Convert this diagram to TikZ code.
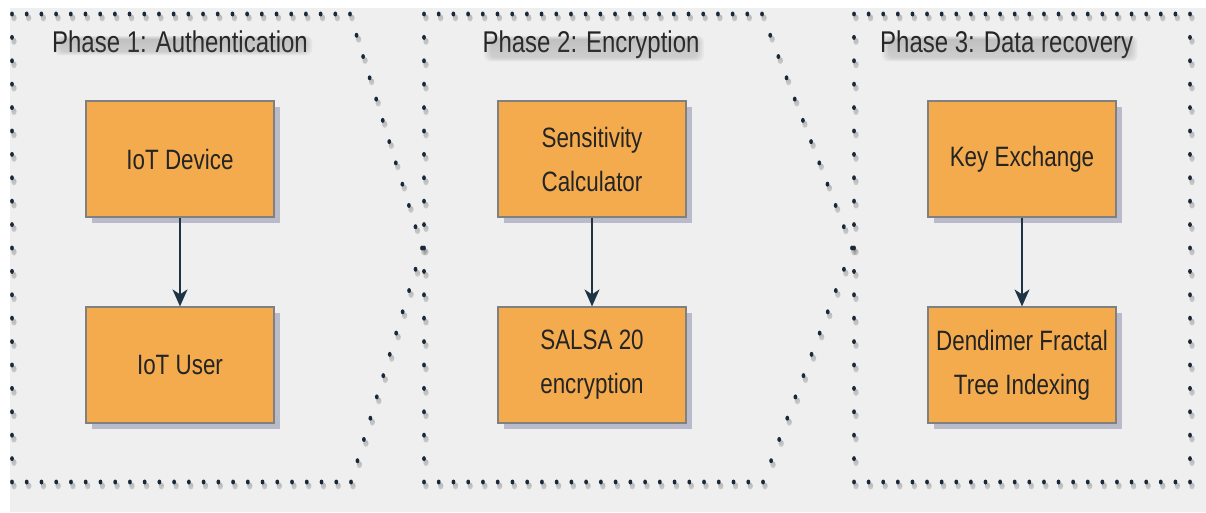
\documentclass[tikz,border=0pt]{standalone}
\usepackage{fontspec}
\setmainfont{Liberation Sans}[FakeStretch=0.8]
\usetikzlibrary{arrows.meta,shadows,calc}
\definecolor{canvas}{RGB}{239,239,239}
\definecolor{stepfill}{RGB}{244,171,78}
\definecolor{stepline}{RGB}{128,128,128}
\definecolor{dotink}{RGB}{26,40,56}
\definecolor{arrowink}{RGB}{30,52,68}
\definecolor{shade}{RGB}{120,124,158}
\definecolor{txt}{RGB}{36,36,36}
% a run of #3 dots from just after #1 up to and including #2
\newcommand\dotrun[3]{%
  \foreach \i in {1,...,#3} {%
    \fill[shade, opacity=0.18] ($(#1)!{\i/#3}!(#2)+(2,4)$) ellipse [x radius=2.6, y radius=3.4];
    \fill[dotink] ($(#1)!{\i/#3}!(#2)$) ellipse [x radius=1.9, y radius=2.5];
  }}
\begin{document}
\begin{tikzpicture}[x=1pt,y=-1pt,
  stagebox/.style={draw=stepline, line width=1.2pt, fill=stepfill,
    minimum width=188pt, minimum height=116pt, inner sep=0pt, align=center,
    text=txt, font=\fontsize{28}{44}\selectfont,
    drop shadow={shadow xshift=6pt, shadow yshift=-6pt, fill=shade, opacity=0.45}},
  phasetitle/.style={anchor=base, text=txt, font=\fontsize{30}{36}\selectfont, inner sep=0pt},
  flow/.style={draw=arrowink, line width=1.8pt, -{Stealth[length=17pt,width=15pt,inset=5pt]}},
]
\useasboundingbox (0,0) rectangle (1206,512);
\fill[canvas] (10,8) rectangle (1206,512);

% corners of the three phase outlines
\coordinate (a1) at (12,14);  \coordinate (a2) at (350,14);
\coordinate (a3) at (422,248); \coordinate (a4) at (351,482);
\coordinate (a5) at (12,482);
\coordinate (b1) at (424,14);  \coordinate (b2) at (762,14);
\coordinate (b3) at (852,248); \coordinate (b4) at (763,482);
\coordinate (b5) at (424,482);
\coordinate (c1) at (854,14);  \coordinate (c2) at (1190,14);
\coordinate (c3) at (1190,482); \coordinate (c4) at (854,482);

% dotted outlines
\dotrun{a1}{a2}{23}\dotrun{a2}{a3}{11}\dotrun{a3}{a4}{11}\dotrun{a4}{a5}{23}\dotrun{a5}{a1}{20}
\dotrun{b1}{b2}{23}\dotrun{b2}{b3}{11}\dotrun{b3}{b4}{11}\dotrun{b4}{b5}{23}\dotrun{b5}{b1}{20}
\dotrun{c1}{c2}{23}\dotrun{c2}{c3}{20}\dotrun{c3}{c4}{23}\dotrun{c4}{c1}{20}

% phase titles
\node[phasetitle] (t1) at (180,52) {Phase 1: Authentication};
\node[phasetitle] (t2) at (591,52) {Phase 2: Encryption};
\node[phasetitle, anchor=base west] (t3) at (880,52) {Phase 3: Data recovery};

% soft haze under the titles
\foreach \t in {t1,t2,t3} {
  \foreach \k in {0,2,4,6} {
    \fill[shade, opacity=0.035, rounded corners=6pt]
      ($(\t.south west)+(\k+2,3-\k*0.5)$) rectangle ($(\t.north east)+(4-\k,6+\k*0.5)$);
  }
}

% steps
\node[stagebox] (dev) at (180,159) {IoT Device};
\node[stagebox] (usr) at (180,365) {IoT User};
\node[stagebox] (sens) at (592,159) {Sensitivity\\Calculator};
\node[stagebox] (salsa) at (592,365) {SALSA 20\\encryption};
\node[stagebox] (kex) at (1022,159) {Key Exchange};
\node[stagebox] (dft) at (1022,365) {Dendimer Fractal\\Tree Indexing};

\draw[flow] (dev) -- (usr);
\draw[flow] (sens) -- (salsa);
\draw[flow] (kex) -- (dft);
\end{tikzpicture}
\end{document}
